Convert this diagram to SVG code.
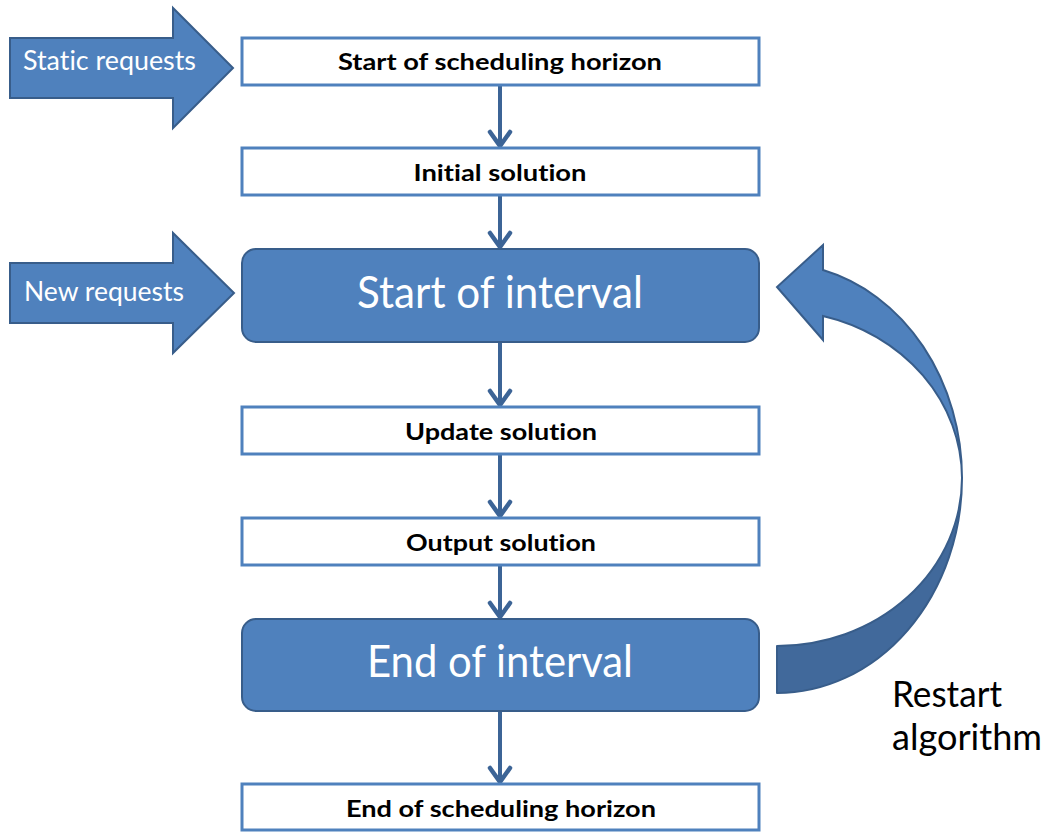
<svg xmlns="http://www.w3.org/2000/svg" width="1048" height="832" viewBox="0 0 1048 832">
  <style>
    text { font-variant-ligatures: none; font-feature-settings: "liga" 0, "clig" 0; }
    .box { fill: #ffffff; stroke: #4f81bd; stroke-width: 3; }
    .event { fill: #4f81bd; stroke: #385d8a; stroke-width: 2; }
    .block { fill: #4f81bd; stroke: #385d8a; stroke-width: 2; stroke-linejoin: miter; }
    .lbl { font-family: Lato, "Open Sans", "Liberation Sans", sans-serif; font-weight: bold; font-size: 23px; fill: #000; text-anchor: middle; }
    .big { font-family: Lato, "Open Sans", "Liberation Sans", sans-serif; font-size: 44px; fill: #fff; text-anchor: middle; }
    .side { font-family: Lato, "Open Sans", "Liberation Sans", sans-serif; font-size: 26px; fill: #fff; }
    .note { font-family: Lato, "Open Sans", "Liberation Sans", sans-serif; font-size: 36px; fill: #000; }
    .conn { stroke: #3c6496; stroke-width: 4; fill: none; }
  </style>
  <defs>
    <!-- open chevron head, drawn pointing along +x so orient="auto" lines it up -->
    <marker id="chev" markerUnits="userSpaceOnUse" markerWidth="30" markerHeight="30" refX="27" refY="15" orient="auto" viewBox="0 0 30 30">
      <path d="M13,5 L27,15 L13,25" fill="none" stroke="#3c6496" stroke-width="4.5" stroke-linecap="round" stroke-linejoin="miter"/>
    </marker>
  </defs>

  <!-- incoming block arrows -->
  <g id="static-requests">
    <polygon class="block" points="10,38 173,38 173,8 233,68 173,128 173,98 10,98"/>
    <text class="side" x="23" y="70" textLength="173" lengthAdjust="spacingAndGlyphs">Static requests</text>
  </g>
  <g id="new-requests">
    <polygon class="block" points="10,263 173,263 173,233 234,293 173,353 173,323 10,323"/>
    <text class="side" x="24" y="301" textLength="160" lengthAdjust="spacingAndGlyphs">New requests</text>
  </g>

  <!-- vertical flow connectors -->
  <g id="connectors">
    <line class="conn" x1="500" y1="86" x2="500" y2="146" marker-end="url(#chev)"/>
    <line class="conn" x1="500" y1="196" x2="500" y2="247" marker-end="url(#chev)"/>
    <line class="conn" x1="500" y1="343" x2="500" y2="405" marker-end="url(#chev)"/>
    <line class="conn" x1="500" y1="455" x2="500" y2="516" marker-end="url(#chev)"/>
    <line class="conn" x1="500" y1="566" x2="500" y2="617" marker-end="url(#chev)"/>
    <line class="conn" x1="500" y1="712" x2="500" y2="782" marker-end="url(#chev)"/>
  </g>

  <!-- flow steps -->
  <g id="start-horizon">
    <rect class="box" x="242" y="38" width="517" height="47"/>
    <text class="lbl" x="500" y="70" textLength="324" lengthAdjust="spacingAndGlyphs">Start of scheduling horizon</text>
  </g>
  <g id="initial-solution">
    <rect class="box" x="242" y="148" width="517" height="47"/>
    <text class="lbl" x="500" y="181" textLength="173" lengthAdjust="spacingAndGlyphs">Initial solution</text>
  </g>
  <g id="start-interval">
    <rect class="event" x="242" y="249" width="517" height="93" rx="14" ry="14"/>
    <text class="big" x="500" y="308" textLength="286" lengthAdjust="spacingAndGlyphs">Start of interval</text>
  </g>
  <g id="update-solution">
    <rect class="box" x="242" y="407" width="517" height="47"/>
    <text class="lbl" x="501" y="440" textLength="192" lengthAdjust="spacingAndGlyphs">Update solution</text>
  </g>
  <g id="output-solution">
    <rect class="box" x="242" y="518" width="517" height="47"/>
    <text class="lbl" x="501" y="551" textLength="190" lengthAdjust="spacingAndGlyphs">Output solution</text>
  </g>
  <g id="end-interval">
    <rect class="event" x="242" y="619" width="517" height="92" rx="14" ry="14"/>
    <text class="big" x="500" y="677" textLength="266" lengthAdjust="spacingAndGlyphs">End of interval</text>
  </g>
  <g id="end-horizon">
    <rect class="box" x="242" y="784" width="517" height="46"/>
    <text class="lbl" x="501" y="817" textLength="310" lengthAdjust="spacingAndGlyphs">End of scheduling horizon</text>
  </g>

  <!-- curved restart arrow: lower twisted part, then upper part with head -->
  <g id="restart-loop">
    <path d="M962,478 A185,215 0 0 1 777,693 L777,646 A185,168 0 0 0 962,478 Z" fill="#41699b" stroke="#385d8a" stroke-width="2" stroke-linejoin="round"/>
    <path d="M823,270 A185,215 0 0 1 962,478 A185,168 0 0 0 823,316 L823,340 L777,287 L823,245 Z" fill="#4f81bd" stroke="#385d8a" stroke-width="2" stroke-linejoin="miter"/>
    <text class="note" x="892" y="707" textLength="110" lengthAdjust="spacingAndGlyphs">Restart</text>
    <text class="note" x="892" y="750" textLength="150" lengthAdjust="spacingAndGlyphs">algorithm</text>
  </g>
</svg>
